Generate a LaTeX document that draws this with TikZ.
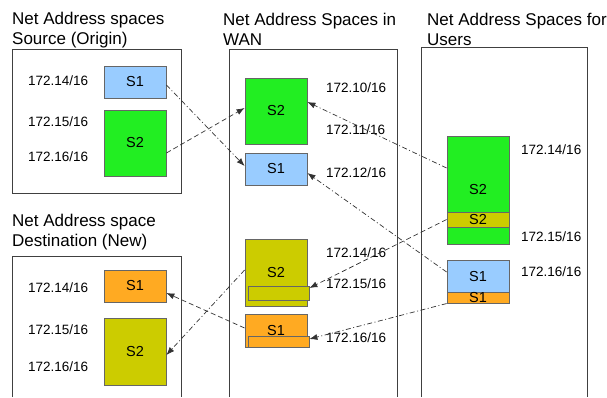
\documentclass[tikz,border=0pt]{standalone}
\usepackage{fontspec}
\setmainfont{Liberation Sans}
\usepackage{xcolor}
\usepackage{tikz}
\usetikzlibrary{arrows.meta}

\definecolor{netblue}{HTML}{99CCFF}
\definecolor{netgreen}{HTML}{22EE22}
\definecolor{netolive}{HTML}{CCCC00}
\definecolor{netorange}{HTML}{FFAA22}

\begin{document}
\begin{tikzpicture}[x=1pt, y=-1pt,
    frame/.style={draw=black!75, line width=0.8pt},
    title/.style={anchor=north west, inner sep=0pt, align=left, font=\fontsize{17}{20}\selectfont},
    addr/.style={anchor=west, inner sep=0pt, font=\fontsize{13.5}{15}\selectfont},
    space/.style={draw=black!60, line width=0.8pt, inner sep=0pt, minimum width=62pt, font=\fontsize{14.5}{16}\selectfont},
    band/.style={draw=black!60, line width=0.8pt, inner sep=0pt, minimum width=61pt},
    dashline/.style={draw=black!80, line width=0.7pt, dash pattern=on 5pt off 3pt, -{Latex[length=8pt,width=6pt]}},
    dotline/.style={draw=black!80, line width=0.7pt, dash pattern=on 5pt off 2.5pt on 1pt off 2.5pt, -{Latex[length=8pt,width=6pt]}}]

     \useasboundingbox (0,0) rectangle (607,397);

     % Frames
     \draw[frame] (12,49) rectangle (181,193);
     \draw[frame] (12,397) |- (181,256) -- (181,397);
     \draw[frame] (229,397) |- (397,49) -- (397,397);
     \draw[frame] (421,397) |- (587,47) -- (587,397);

     % Titles
     \node[title] (t_src)  at (12,11.5)  {Net Address spaces\\Source (Origin)};
     \node[title] (t_dst)  at (12,214)   {Net Address space\\Destination (New)};
     \node[title] (t_wan)  at (223,13)   {Net Address Spaces in\\WAN};
     \node[title] (t_usr)  at (427,13)   {Net Address Spaces for\\Users};

     % Define nodes
     \node[space, fill=netblue,  minimum height=32pt] (src_s1) at (135,82)    {S1};
     \node[space, fill=netgreen, minimum height=66pt] (src_s2) at (135,143)   {S2};
     \node[space, fill=netgreen, minimum height=66pt] (wan_s2) at (276,111)   {S2};
     \node[space, fill=netblue,  minimum height=32pt] (wan_s1) at (276,169)   {S1};
     \node[space, fill=netolive, minimum height=67pt] (wan_s2n) at (276,272.5) {S2};
     \node[band,  fill=netolive, minimum height=14pt] (wan_s2b) at (278.5,293) {};
     \node[space, fill=netorange, minimum height=33pt] (wan_s1n) at (276,330.5) {S1};
     \node[band,  fill=netorange, minimum height=11pt] (wan_s1b) at (278.5,341.5) {};
     \node[space, fill=netgreen, minimum height=108pt] (usr_s2) at (478,190)  {S2};
     \node[space, fill=netolive, minimum height=15pt] (usr_s2b) at (478,219.5) {S2};
     \node[space, fill=netblue,  minimum height=33pt] (usr_s1) at (478,276.5) {S1};
     \node[space, fill=netorange, minimum height=10pt] (usr_s1b) at (478,298) {S1};
     \node[space, fill=netorange, minimum height=32pt] (dst_s1) at (135,286)  {S1};
     \node[space, fill=netolive, minimum height=67pt] (dst_s2) at (135,351.5) {S2};

     % Addresses
     \node[addr] (a_src14) at (28,81)   {172.14/16};
     \node[addr] (a_src15) at (28,122)  {172.15/16};
     \node[addr] (a_src16) at (28,157)  {172.16/16};
     \node[addr] (a_wan10) at (326,88)  {172.10/16};
     \node[addr] (a_wan11) at (326,130) {172.11/16};
     \node[addr] (a_wan12) at (326,173) {172.12/16};
     \node[addr] (a_wan14) at (326,253) {172.14/16};
     \node[addr] (a_wan15) at (326,284) {172.15/16};
     \node[addr] (a_wan16) at (326,338) {172.16/16};
     \node[addr] (a_usr14) at (521,150) {172.14/16};
     \node[addr] (a_usr15) at (521,237) {172.15/16};
     \node[addr] (a_usr16) at (521,272) {172.16/16};
     \node[addr] (a_dst14) at (28,288)  {172.14/16};
     \node[addr] (a_dst15) at (28,330)  {172.15/16};
     \node[addr] (a_dst16) at (28,367)  {172.16/16};

     % Connect the nodes
     \draw[dotline]  ([yshift=-3pt]src_s1.east) -- ([yshift=3pt]wan_s1.west);
     \draw[dashline] ([yshift=-10pt]src_s2.east) -- ([yshift=3pt]wan_s2.west);
     \draw[dotline]  ([yshift=22pt]usr_s2.west) -- ([yshift=9pt]wan_s2.east);
     \draw[dotline]  ([yshift=4.5pt]usr_s1.west) -- ([yshift=-4pt]wan_s1.east);
     \draw[dashline] (usr_s2b.west) -- ([yshift=5pt]wan_s2b.east);
     \draw[dotline]  (usr_s1b.south west) -- ([yshift=2.5pt]wan_s1b.east);
     \draw[dotline]  ([yshift=2.5pt]wan_s2n.west) -- ([yshift=-3.5pt]dst_s2.east);
     \draw[dashline] ([yshift=2.5pt]wan_s1n.west) -- ([yshift=-7pt]dst_s1.east);

\end{tikzpicture}
\end{document}
